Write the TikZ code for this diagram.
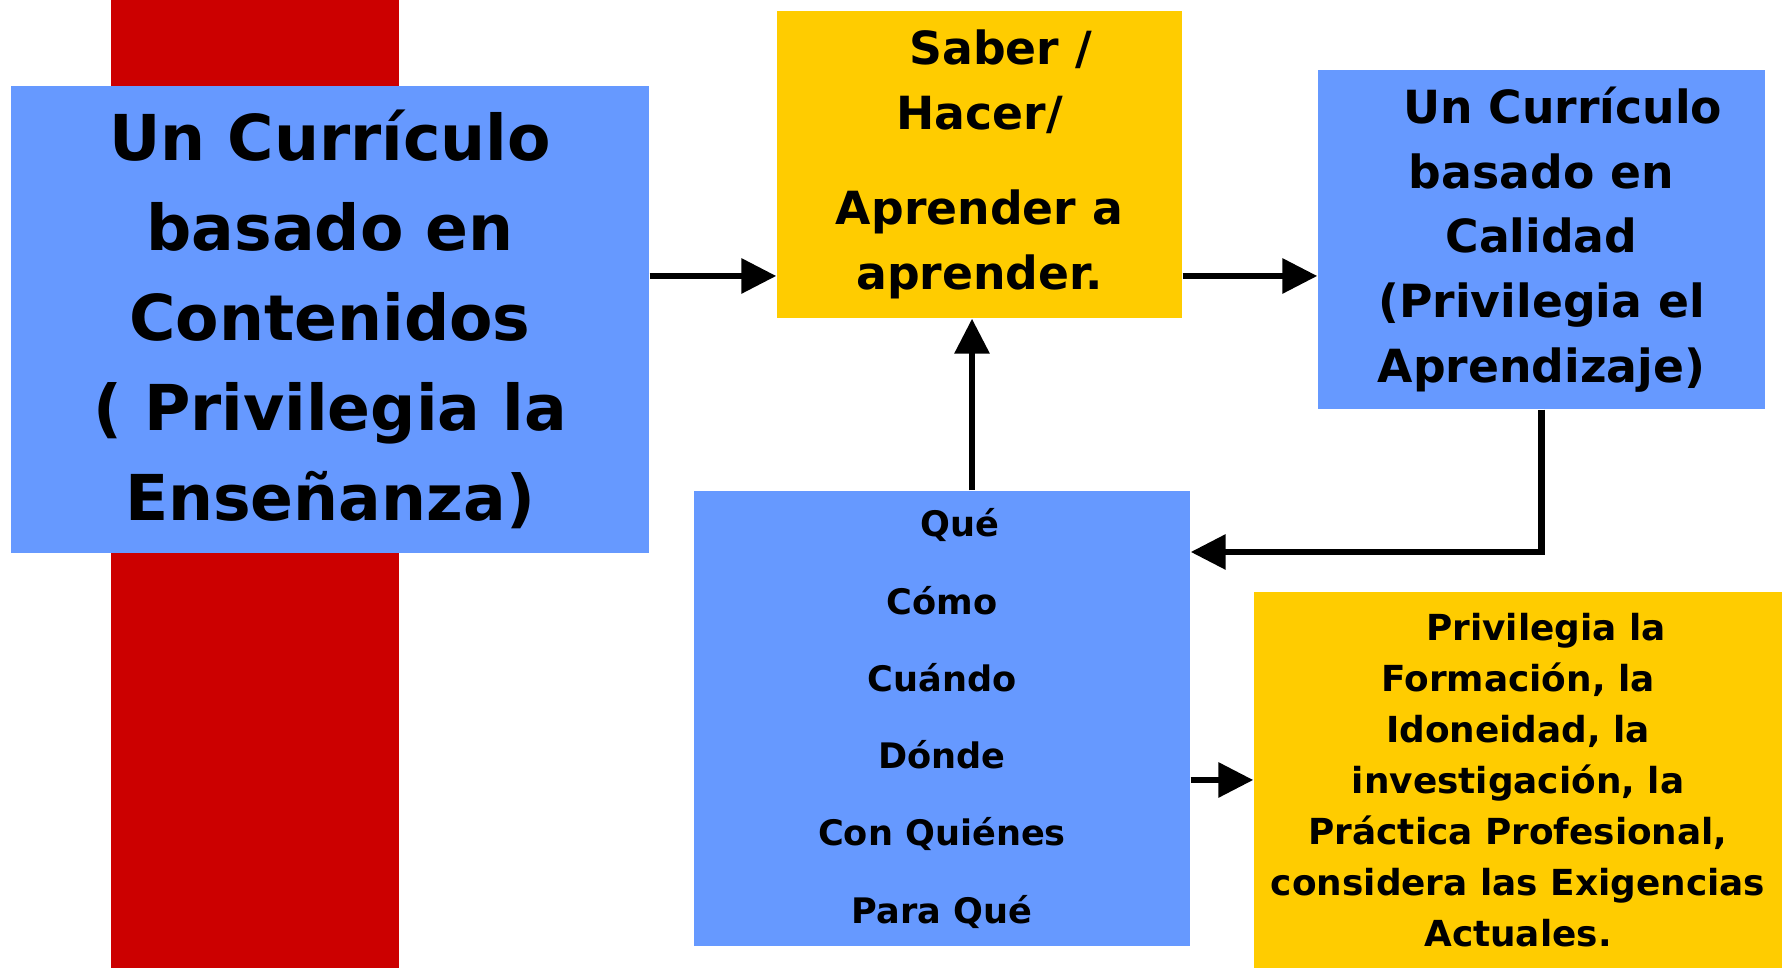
\documentclass[tikz,border=0pt]{standalone}
\usepackage{fontspec}
\setmainfont{DejaVu Sans}
\usepackage{tikz}
\usetikzlibrary{arrows.meta}
\definecolor{boxblue}{HTML}{6699FF}
\definecolor{boxyellow}{HTML}{FFCC00}
\definecolor{barred}{HTML}{CC0000}
\tikzstyle{bluebox} = [rectangle, fill=boxblue, align=center, inner sep=0pt]
\tikzstyle{yellowbox} = [rectangle, fill=boxyellow, align=center, inner sep=0pt]
\tikzstyle{arrow} = [line width=1.8pt, -{Triangle[length=0.35cm, width=0.34cm]}]

\begin{document}
\begin{tikzpicture}

  \useasboundingbox (0,0) rectangle (17.82,9.68);

  \fill [barred] (1.11,0) rectangle (3.99,9.68);

  \node (contenidos) [bluebox, minimum width=6.38cm, minimum height=4.67cm,
    font=\bfseries\fontsize{18}{25.6}\selectfont] at (3.30,6.485)
    {Un Currículo\\basado en\\Contenidos\\( Privilegia la\\Enseñanza)};
  \node (saber) [yellowbox, minimum width=4.05cm, minimum height=3.07cm,
    font=\bfseries\fontsize{13}{18.4}\selectfont] at (9.795,8.035)
    {\hspace*{12pt}Saber /\\Hacer/\\[8.7pt]Aprender a\\aprender.};
  \node (calidad) [bluebox, minimum width=4.47cm, minimum height=3.39cm,
    font=\bfseries\fontsize{13}{18.4}\selectfont] at (15.415,7.285)
    {\hspace*{12pt}Un Currículo\\basado en\\Calidad\\(Privilegia el\\Aprendizaje)};
  \node (preguntas) [bluebox, minimum width=4.96cm, minimum height=4.55cm,
    font=\bfseries\fontsize{10}{22}\selectfont] at (9.42,2.495)
    {\hspace*{10pt}Qué\\Cómo\\Cuándo\\Dónde\\Con Quiénes\\Para Qué};
  \node (formacion) [yellowbox, minimum width=5.28cm, minimum height=3.76cm,
    font=\bfseries\fontsize{10.2}{14.5}\selectfont] at (15.18,1.88)
    {\hspace*{16pt}Privilegia la\\Formación, la\\Idoneidad, la\\investigación, la\\Práctica Profesional,\\considera las Exigencias\\Actuales.};

  \coordinate (toprow) at (0,6.92);
  \coordinate (backrow) at (0,4.16);
  \coordinate (upcol) at (9.72,0);

  \draw [arrow] (contenidos.east |- toprow) -- (saber.west |- toprow);
  \draw [arrow] (saber.east |- toprow) -- (calidad.west |- toprow);
  \draw [arrow] (preguntas.north -| upcol) -- (saber.south -| upcol);
  \draw [arrow] (calidad.south) |- (preguntas.east |- backrow);
  \draw [arrow] (preguntas.east |- formacion.west) -- (formacion.west);

\end{tikzpicture}
\end{document}
